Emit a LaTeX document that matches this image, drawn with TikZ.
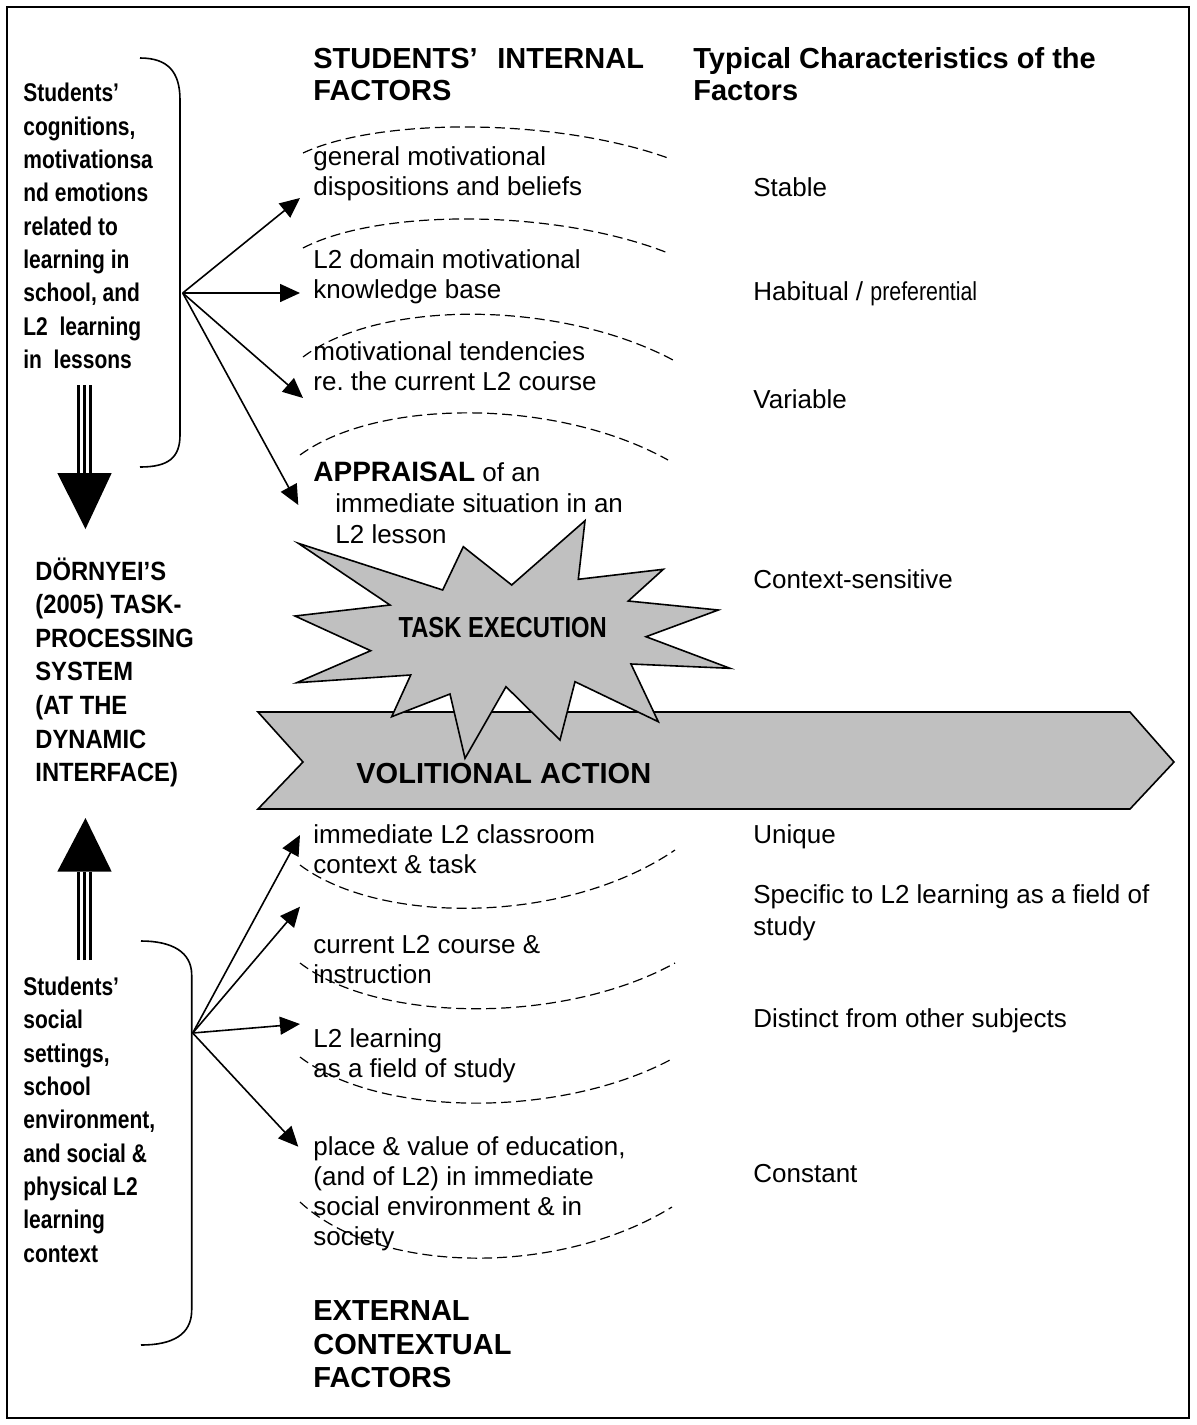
\documentclass[tikz,border=0pt]{standalone}
\usepackage{fontspec}
\setmainfont{Liberation Sans}
\newfontfamily\narrowfont[FakeStretch=0.82]{Liberation Sans}
\newfontfamily\semifont[FakeStretch=0.9]{Liberation Sans}
\usetikzlibrary{arrows.meta}
\definecolor{bandgray}{HTML}{C0C0C0}
\frenchspacing

% multi-line nodes sit on the baseline of their last line
\tikzset{
  factor/.style={anchor=base west, inner sep=0pt, align=left, font=\fontsize{13}{15}\selectfont},
  charac/.style={anchor=base west, inner sep=0pt, align=left, font=\fontsize{13}{16}\selectfont},
  heading/.style={anchor=base west, inner sep=0pt, align=left, font=\bfseries\fontsize{14.5}{16}\selectfont},
  sidetext/.style={anchor=base west, inner sep=0pt, align=left, font=\narrowfont\bfseries\fontsize{12.8}{16.65}\selectfont},
  fan/.style={-{Triangle[length=10pt,width=9pt]}, line width=0.8pt},
  layer/.style={dash pattern=on 5pt off 2.5pt, line width=0.6pt},
  shaft/.style={line width=1.3pt},
}

\begin{document}
\begin{tikzpicture}[x=0.5pt, y=-0.5pt]
\useasboundingbox (0,0) rectangle (1196,1425);
\draw[line width=1pt] (7,7) rectangle (1189,1418);

% headings
\node[heading] (intHead) at (313,100) {STUDENTS’\hspace{0.4em} INTERNAL\\FACTORS};
\node[heading] (charHead) at (693,100) {Typical Characteristics of the\\Factors};

% left side
\node[sidetext] (cogn) at (23,368.3) {Students’\\cognitions,\\motivationsa\\nd emotions\\related to\\learning in\\school, and\\L2\ \ learning\\in\ \ lessons};
\node[anchor=base west, inner sep=0pt, align=left, font=\semifont\bfseries\fontsize{13.2}{16.8}\selectfont] (dorn) at (35,781.6) {DÖRNYEI’S\\(2005) TASK-\\PROCESSING\\SYSTEM\\(AT THE\\DYNAMIC\\INTERFACE)};
\node[sidetext] (social) at (23,1262) {Students’\\social\\settings,\\school\\environment,\\and social \&\\physical L2\\learning\\context};

% braces
\draw[line width=0.8pt] (140,58) .. controls (168,58) and (180,72) .. (180,100) -- (180,435) .. controls (180,458) and (168,467) .. (140,467);
\draw[line width=0.8pt] (141,941) .. controls (172,941) and (191.7,952) .. (191.7,975) -- (191.7,1310) .. controls (191.7,1335) and (172,1345) .. (141,1345);

% big striped arrows
\coordinate (downTop) at (84.5,385);
\coordinate (downBase) at (84.5,473);
\coordinate (downTip) at (85.5,529);
\foreach \dx in {-6,0,6}
  \draw[shaft] ([xshift=\dx*0.5pt]downTop) -- ([xshift=\dx*0.5pt]downBase);
\fill ([xshift=-13.6pt]downBase) -- ([xshift=13.6pt]downBase) -- (downTip) -- cycle;
\coordinate (upTop) at (84.5,960);
\coordinate (upBase) at (84.5,871.7);
\coordinate (upTip) at (85.5,818);
\foreach \dx in {-6,0,6}
  \draw[shaft] ([xshift=\dx*0.5pt]upTop) -- ([xshift=\dx*0.5pt]upBase);
\fill ([xshift=-13.6pt]upBase) -- ([xshift=13.6pt]upBase) -- (upTip) -- cycle;

% internal factors
\node[factor] (gen) at (313,195.5) {general motivational\\dispositions and beliefs};
\node[factor] (dom) at (313,298.3) {L2 domain motivational\\knowledge base};
\node[factor] (tend) at (313,390.5) {motivational tendencies\\re. the current L2 course};
\node[factor, font=\fontsize{13}{15.5}\selectfont] (appr) at (313,543) {{\bfseries\fontsize{14}{15}\selectfont APPRAISAL} of an\\\hspace*{11pt}immediate situation in an\\\hspace*{11pt}L2 lesson};

\draw[layer] (303,153) .. controls (380,117) and (557,118) .. (668,158);
\draw[layer] (303,248) .. controls (380,208) and (557,209) .. (668,253);
\draw[layer] (303,357) .. controls (380,299) and (560,300) .. (673,360);
\draw[layer] (300,455) .. controls (378,398) and (557,398) .. (668,460);

% external factors
\node[factor] (cls) at (313,873.5) {immediate L2 classroom\\context \& task};
\node[factor] (crs) at (313,983) {current L2 course \&\\instruction};
\node[factor] (fld) at (313,1077.3) {L2 learning\\as a field of study};
\node[factor] (plc) at (313,1245) {place \& value of education,\\(and of L2) in immediate\\social environment \& in\\society};
\node[heading, font=\bfseries\fontsize{14.5}{16.65}\selectfont] (extHead) at (313,1387.3) {EXTERNAL\\CONTEXTUAL\\FACTORS};

\draw[layer] (300,865) .. controls (380,925) and (565,925) .. (675,850);
\draw[layer] (300,963) .. controls (380,1024) and (565,1024) .. (675,963);
\draw[layer] (300,1057) .. controls (380,1118) and (560,1118) .. (670,1060);
\draw[layer] (300,1202) .. controls (380,1276) and (560,1276) .. (672,1207);

% fans
\coordinate (fanTop) at (182.7,293);
\coordinate (tGen) at (300,198);
\coordinate (tDom) at (300,293);
\coordinate (tTend) at (303,398);
\coordinate (tAppr) at (298.3,505);
\foreach \t in {tGen,tDom,tTend,tAppr}
  \draw[fan] (fanTop) -- (\t);
\coordinate (fanLow) at (192.7,1033);
\coordinate (tCls) at (300,835);
\coordinate (tCrs) at (300,906.7);
\coordinate (tFld) at (300,1024);
\coordinate (tPlc) at (298.3,1146.7);
\foreach \t in {tCls,tCrs,tFld,tPlc}
  \draw[fan] (fanLow) -- (\t);

% characteristics
\node[charac] (stable) at (753,196.7) {Stable};
\node[charac] (habit) at (753,300) {Habitual / {\narrowfont preferential}};
\node[charac] (var) at (753,408) {Variable};
\node[charac] (ctx) at (753,588) {Context-sensitive};
\node[charac] (uniq) at (753,843) {Unique};
\node[charac] (spec) at (753,935) {Specific to L2 learning as a field of\\study};
\node[charac] (dist) at (753,1027) {Distinct from other subjects};
\node[charac] (const) at (753,1182) {Constant};

% volitional band and task star
\draw[fill=bandgray, line width=0.8pt] (258,712) -- (1130,712) -- (1174,762) -- (1130,809) -- (258,809) -- (303,762) -- cycle;
\draw[fill=bandgray, line width=0.8pt] (298.3,543.3) -- (442.7,590) -- (463.3,546.7) -- (511.7,585) -- (585,520.7) -- (578.3,579.3) -- (663.3,569.3) -- (628.3,601) -- (718.3,610) -- (646,636.7) -- (730,668.3) -- (631,664) -- (658.3,721.7) -- (575,681.7) -- (560,740) -- (506,686.7) -- (465,758.3) -- (450,694) -- (391.7,716.7) -- (410.7,675) -- (296.7,682.7) -- (370.7,650.7) -- (295,616) -- (390,605) -- cycle;
\node[font=\narrowfont\bfseries\fontsize{14.5}{16}\selectfont] (task) at (502.7,628) {TASK EXECUTION};
\node[anchor=base west, inner sep=0pt, font=\bfseries\fontsize{14.5}{16}\selectfont] (volit) at (356,783.3) {VOLITIONAL ACTION};
\end{tikzpicture}
\end{document}
